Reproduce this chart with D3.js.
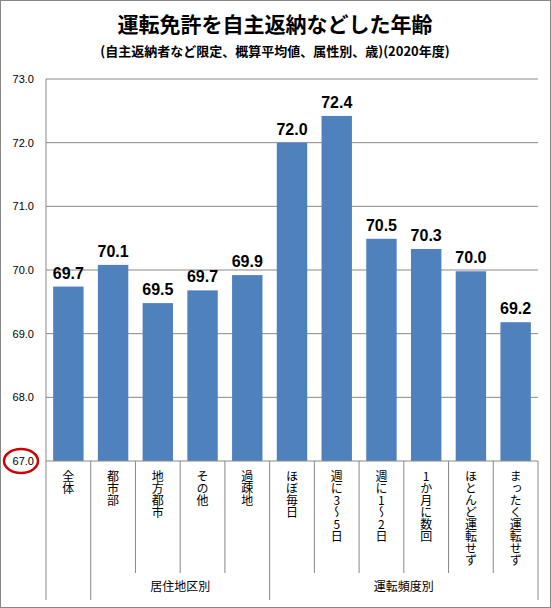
<!DOCTYPE html>
<html><head><meta charset="utf-8">
<script src="https://cdn.jsdelivr.net/npm/d3@7"></script>
<style>body{margin:0;background:#fff}</style>
</head><body>
<script>
const categories = ["全体","都市部","地方都市","その他","過疎地","ほぼ毎日","週に3～5日","週に1～2日","1か月に数回","ほとんど運転せず","まったく運転せず"];
const values = [69.74,70.08,69.48,69.68,69.92,72.0,72.42,70.49,70.33,69.98,69.18];
const labels = ["69.7","70.1","69.5","69.7","69.9","72.0","72.4","70.5","70.3","70.0","69.2"];
const groups = [{name:"居住地区別",from:1,to:5},{name:"運転頻度別",from:5,to:11}];
const yTicks = [67,68,69,70,71,72,73];

const W = 551, H = 608;
const svg = d3.select("body").append("svg").attr("width", W).attr("height", H)
  .style("font-family", "'Noto Sans CJK JP', sans-serif");
svg.append("rect").attr("x",0.5).attr("y",0.5).attr("width",W-1).attr("height",H-1)
  .attr("fill","#fff").attr("stroke","#888");

const x = d3.scaleBand().domain(categories).range([46, 538]).paddingInner(0.32).paddingOuter(0.16);
const y = d3.scaleLinear().domain([67, 73]).range([461, 79]);

svg.append("text").attr("x", 275).attr("y", 32).attr("text-anchor","middle")
  .attr("font-size", 21).attr("font-weight","bold").text("運転免許を自主返納などした年齢");
svg.append("text").attr("x", 275).attr("y", 56).attr("text-anchor","middle")
  .attr("font-size", 13).attr("font-weight","bold").text("(自主返納者など限定、概算平均値、属性別、歳)(2020年度)");

// grid + y labels
svg.append("g").selectAll("line").data(yTicks.slice(1)).join("line")
  .attr("x1", 46).attr("x2", 538).attr("y1", d => y(d)).attr("y2", d => y(d))
  .attr("stroke", "#888");
svg.append("g").selectAll("text").data(yTicks).join("text")
  .attr("x", 34).attr("y", d => y(d)).attr("dy","0.35em").attr("text-anchor","end")
  .attr("font-family","Arial, 'Liberation Sans', sans-serif").attr("font-size", 11)
  .text(d => d.toFixed(1));
svg.append("ellipse").attr("cx", 21).attr("cy", y(67)).attr("rx", 17).attr("ry", 12)
  .attr("fill","none").attr("stroke","#d00000").attr("stroke-width", 2.5);

// bars
svg.append("g").selectAll("rect").data(values).join("rect")
  .attr("x", (d,i) => x(categories[i])).attr("width", x.bandwidth())
  .attr("y", d => y(d)).attr("height", d => y(67) - y(d)).attr("fill", "#4f81bd");
svg.append("g").selectAll("text").data(values).join("text")
  .attr("x", (d,i) => x(categories[i]) + x.bandwidth()/2).attr("y", d => y(d) - 8)
  .attr("text-anchor","middle").attr("font-weight","bold").attr("font-size", 16)
  .attr("font-family","Arial, 'Liberation Sans', sans-serif")
  .text((d,i) => labels[i]);

// axes
svg.append("line").attr("x1",46).attr("x2",46).attr("y1",79).attr("y2",600).attr("stroke","#888");
svg.append("line").attr("x1",46).attr("x2",538).attr("y1",y(67)).attr("y2",y(67)).attr("stroke","#888");
const step = x.step();
const bx = i => 46 + i * step;
svg.append("g").selectAll("line").data(d3.range(1, 12)).join("line")
  .attr("x1", bx).attr("x2", bx).attr("y1", y(67))
  .attr("y2", i => (i === 1 || i === 5 || i === 11) ? 600 : 573).attr("stroke", "#888");
svg.append("g").selectAll("text").data(categories).join("text")
  .attr("x", d => x(d) + x.bandwidth()/2).attr("y", 470)
  .style("writing-mode","vertical-rl").style("text-orientation","upright")
  .attr("font-size", 12).text(d => d);
svg.append("g").selectAll("text").data(groups).join("text")
  .attr("x", d => (bx(d.from) + bx(d.to))/2).attr("y", 591).attr("text-anchor","middle")
  .attr("font-size", 12).text(d => d.name);
</script>
</body></html>
